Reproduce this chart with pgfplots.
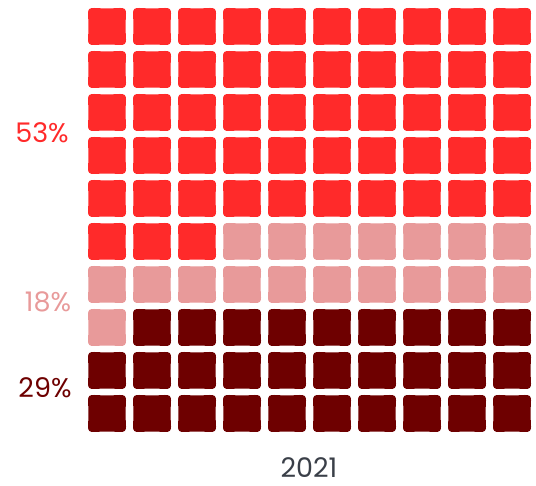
\documentclass[border=0pt]{standalone}
\usepackage{pgfplots}
\pgfplotsset{compat=1.18}
\usepackage{fontspec}
\setmainfont{Poppins}
\definecolor{cRed}{HTML}{FF2A2A}
\definecolor{cPink}{HTML}{E89A9A}
\definecolor{cDark}{HTML}{6E0000}
\definecolor{cText}{HTML}{3A3F48}
\pgfdeclareplotmark{rsq}{%
  \pgfpathmoveto{\pgfpoint{-19pt}{13pt}}%
  \pgfpathcurveto{\pgfpoint{-19pt}{17.5pt}}{\pgfpoint{-17.5pt}{18.5pt}}{\pgfpoint{-13pt}{18.5pt}}%
  \pgfpathcurveto{\pgfpoint{-4pt}{18pt}}{\pgfpoint{4pt}{18pt}}{\pgfpoint{13pt}{18.5pt}}%
  \pgfpathcurveto{\pgfpoint{17.5pt}{18.5pt}}{\pgfpoint{19pt}{17.5pt}}{\pgfpoint{19pt}{13pt}}%
  \pgfpathcurveto{\pgfpoint{18.5pt}{4pt}}{\pgfpoint{18.5pt}{-4pt}}{\pgfpoint{19pt}{-13pt}}%
  \pgfpathcurveto{\pgfpoint{19pt}{-17.5pt}}{\pgfpoint{17.5pt}{-18.5pt}}{\pgfpoint{13pt}{-18.5pt}}%
  \pgfpathcurveto{\pgfpoint{4pt}{-18pt}}{\pgfpoint{-4pt}{-18pt}}{\pgfpoint{-13pt}{-18.5pt}}%
  \pgfpathcurveto{\pgfpoint{-17.5pt}{-18.5pt}}{\pgfpoint{-19pt}{-17.5pt}}{\pgfpoint{-19pt}{-13pt}}%
  \pgfpathcurveto{\pgfpoint{-18.5pt}{-4pt}}{\pgfpoint{-18.5pt}{4pt}}{\pgfpoint{-19pt}{13pt}}%
  \pgfpathclose
  \pgfusepathqfill}
\begin{document}
\begin{tikzpicture}
\begin{axis}[
  x=45pt, y=43pt,
  xmin=-2.378, xmax=9.533, ymin=-1.686, ymax=9.616,
  hide axis, clip=false,
  every axis plot/.append style={only marks, mark=rsq},
]
\path (axis cs:-2.378,-1.686) rectangle (axis cs:9.533,9.616);
% 53% red
\addplot[cRed, mark options={fill=cRed}] coordinates {
(0,9)(1,9)(2,9)(3,9)(4,9)(5,9)(6,9)(7,9)(8,9)(9,9)
(0,8)(1,8)(2,8)(3,8)(4,8)(5,8)(6,8)(7,8)(8,8)(9,8)
(0,7)(1,7)(2,7)(3,7)(4,7)(5,7)(6,7)(7,7)(8,7)(9,7)
(0,6)(1,6)(2,6)(3,6)(4,6)(5,6)(6,6)(7,6)(8,6)(9,6)
(0,5)(1,5)(2,5)(3,5)(4,5)(5,5)(6,5)(7,5)(8,5)(9,5)
(0,4)(1,4)(2,4)
};
% 18% pink
\addplot[cPink, mark options={fill=cPink}] coordinates {
(3,4)(4,4)(5,4)(6,4)(7,4)(8,4)(9,4)
(0,3)(1,3)(2,3)(3,3)(4,3)(5,3)(6,3)(7,3)(8,3)(9,3)
(0,2)
};
% 29% dark
\addplot[cDark, mark options={fill=cDark}] coordinates {
(1,2)(2,2)(3,2)(4,2)(5,2)(6,2)(7,2)(8,2)(9,2)
(0,1)(1,1)(2,1)(3,1)(4,1)(5,1)(6,1)(7,1)(8,1)(9,1)
(0,0)(1,0)(2,0)(3,0)(4,0)(5,0)(6,0)(7,0)(8,0)(9,0)
};
\node[text=cRed, font=\fontsize{27}{29}\selectfont] at (axis cs:-1.444,6.523) {53\%};
\node[text=cPink, font=\fontsize{27}{29}\selectfont] at (axis cs:-1.311,2.593) {18\%};
\node[text=cDark, font=\fontsize{27}{29}\selectfont] at (axis cs:-1.378,0.593) {29\%};
\node[text=cText, font=\fontsize{27}{29}\selectfont] at (axis cs:4.489,-1.267) {2021};
\end{axis}
\end{tikzpicture}
\end{document}
